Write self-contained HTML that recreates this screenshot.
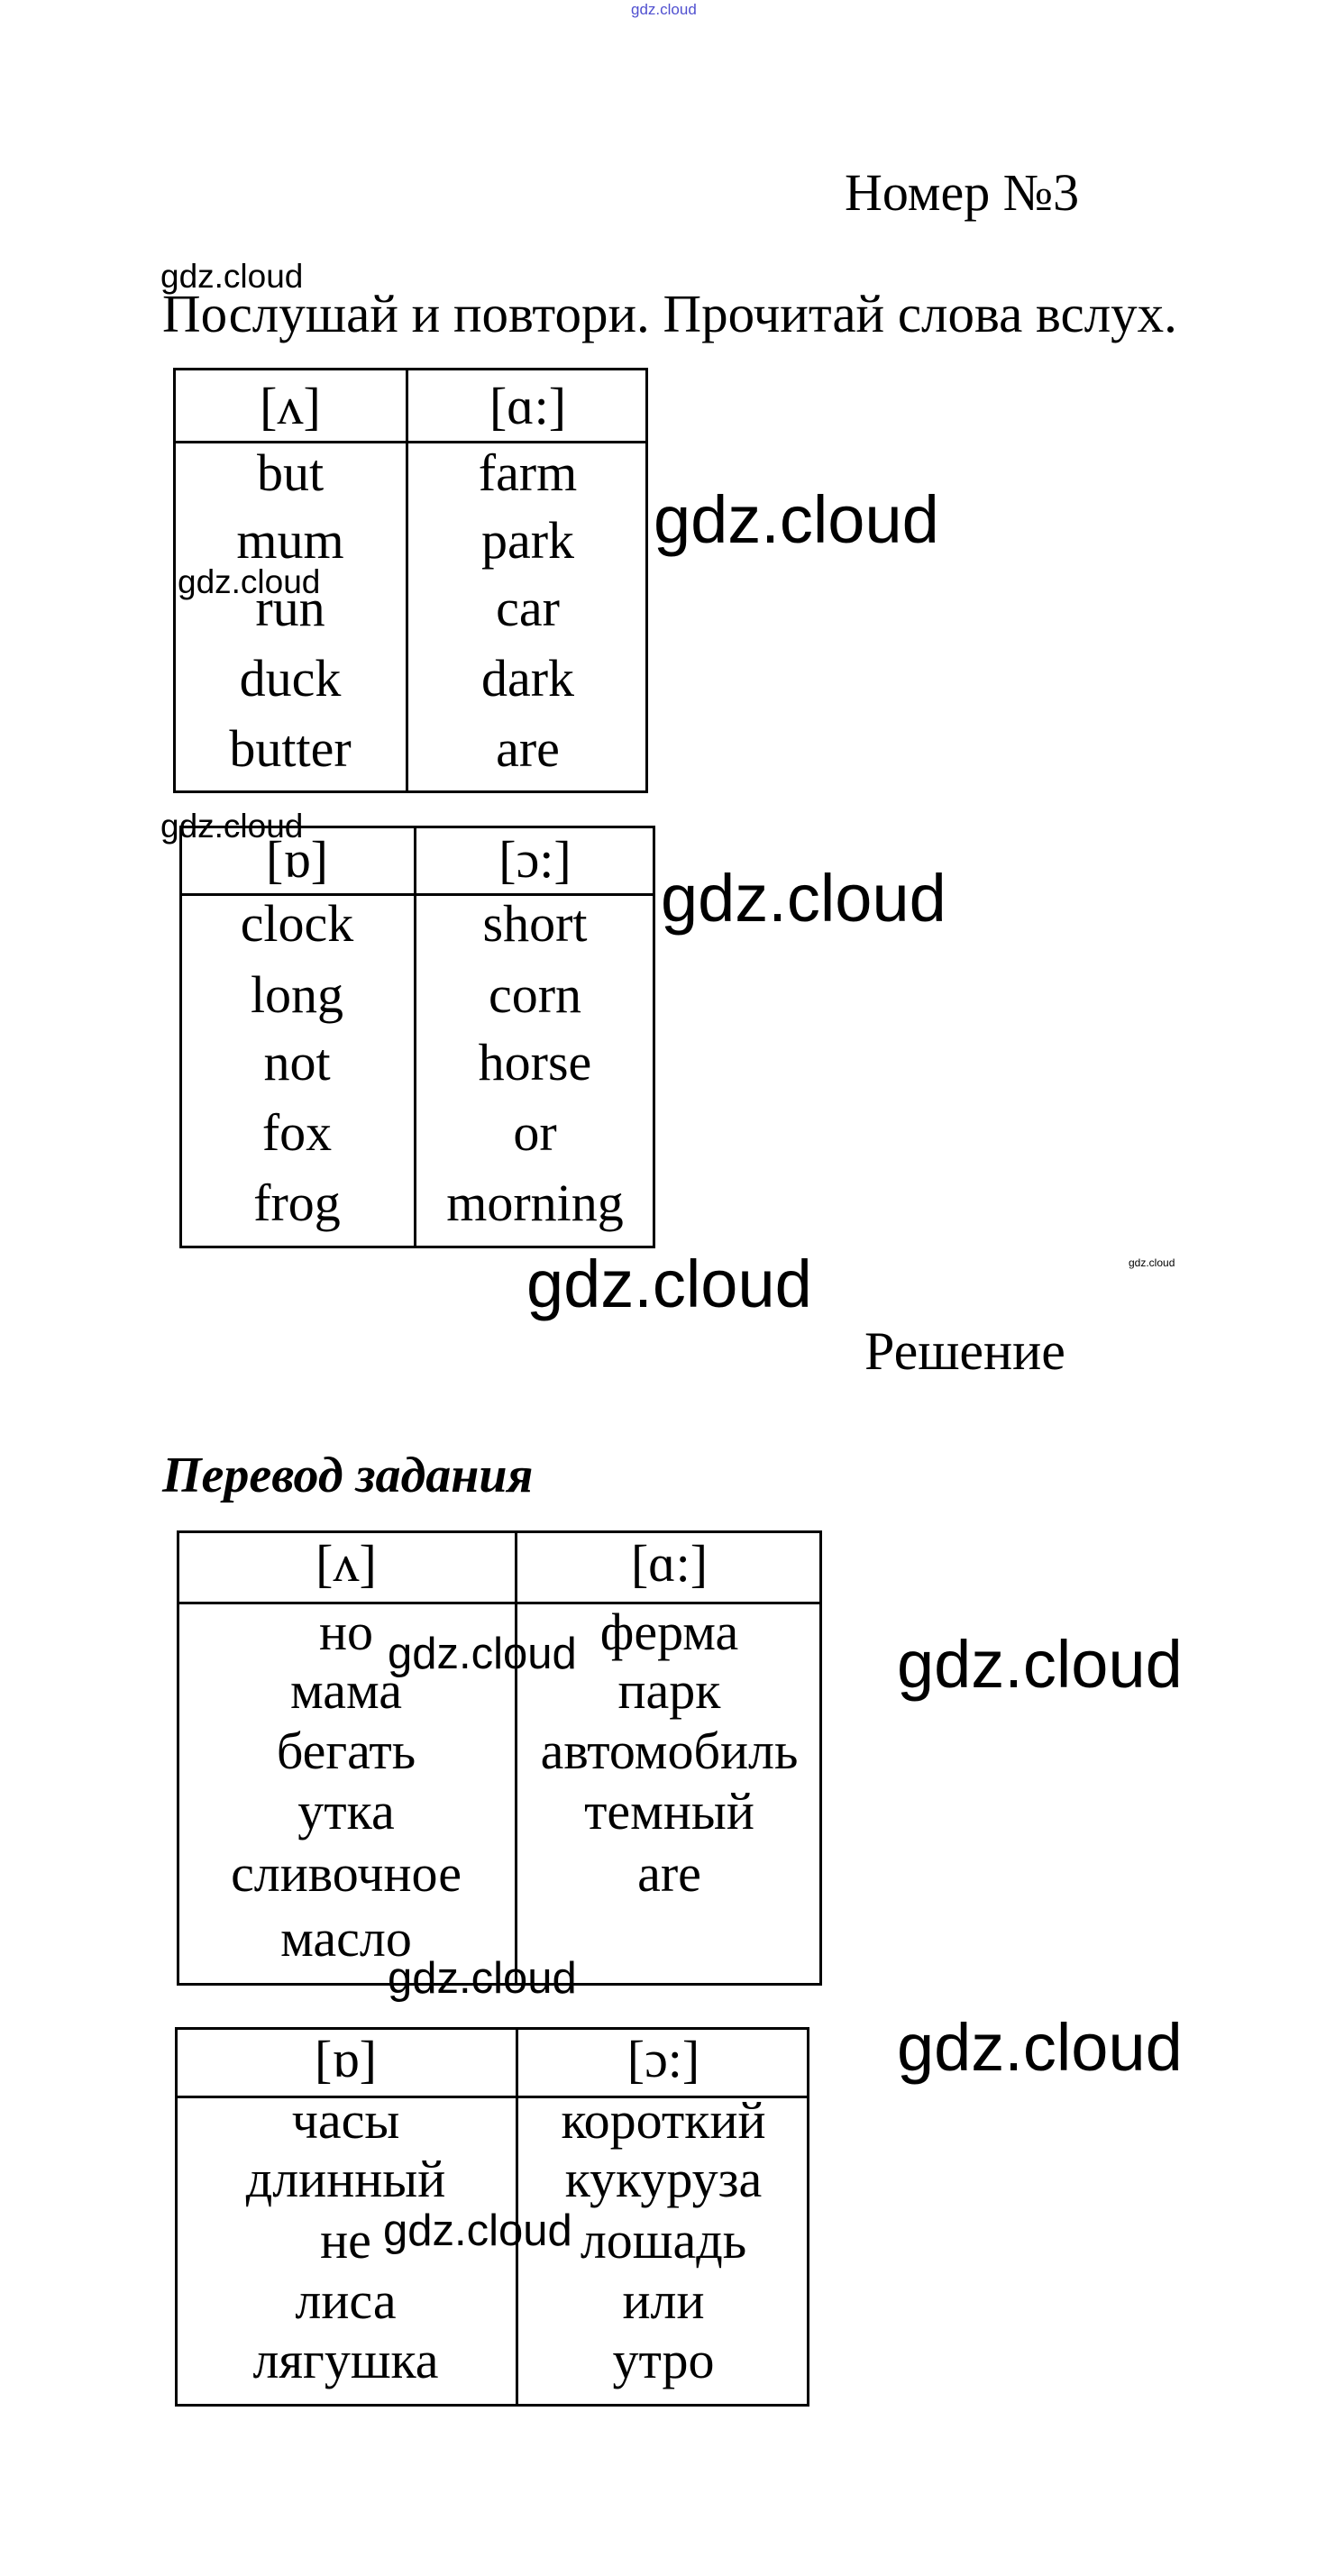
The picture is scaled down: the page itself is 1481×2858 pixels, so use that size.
<!DOCTYPE html>
<html><head><meta charset="utf-8"><style>
html,body{margin:0;padding:0;background:#fff;}
body{width:1481px;height:2858px;position:relative;overflow:hidden;}
.t{position:absolute;line-height:1;white-space:nowrap;color:#000;}
.s{font-family:"Liberation Serif",serif;}
.a{font-family:"Liberation Sans",sans-serif;}
.c{text-align:center;}
.b{position:absolute;border:3px solid #000;box-sizing:border-box;}
.h{position:absolute;background:#000;height:3px;}
.v{position:absolute;background:#000;width:3px;}
</style></head><body>

<div class="t a" style="left:700px;top:2px;font-size:17px;color:#5050d0;">gdz.cloud</div>

<div class="t s" style="left:937px;top:185px;font-size:58px;">Номер №3</div>
<div class="t a" style="left:178px;top:288px;font-size:37px;">gdz.cloud</div>
<div class="t s" style="left:180px;top:319px;font-size:59px;">Послушай и повтори. Прочитай слова вслух.</div>

<!-- table1 -->
<div class="b" style="left:192px;top:408px;width:527px;height:472px;"></div>
<div class="h" style="left:192px;top:489px;width:527px;"></div>
<div class="v" style="left:450px;top:408px;height:472px;"></div>
<div class="t s c" style="left:192px;width:260px;top:422px;font-size:58px;">[ʌ]</div>
<div class="t s c" style="left:452px;width:267px;top:422px;font-size:58px;">[ɑ:]</div>
<div class="t s c" style="left:192px;width:260px;top:496px;font-size:58px;">but</div>
<div class="t s c" style="left:192px;width:260px;top:571px;font-size:58px;">mum</div>
<div class="t s c" style="left:192px;width:260px;top:646px;font-size:58px;">run</div>
<div class="t s c" style="left:192px;width:260px;top:724px;font-size:58px;">duck</div>
<div class="t s c" style="left:192px;width:260px;top:802px;font-size:58px;">butter</div>
<div class="t s c" style="left:452px;width:267px;top:496px;font-size:58px;">farm</div>
<div class="t s c" style="left:452px;width:267px;top:571px;font-size:58px;">park</div>
<div class="t s c" style="left:452px;width:267px;top:646px;font-size:58px;">car</div>
<div class="t s c" style="left:452px;width:267px;top:724px;font-size:58px;">dark</div>
<div class="t s c" style="left:452px;width:267px;top:802px;font-size:58px;">are</div>
<div class="t a" style="left:725px;top:540px;font-size:74px;">gdz.cloud</div>
<div class="t a" style="left:197px;top:627px;font-size:37px;">gdz.cloud</div>

<!-- table2 -->
<div class="b" style="left:199px;top:916px;width:528px;height:469px;"></div>
<div class="h" style="left:199px;top:991px;width:528px;"></div>
<div class="v" style="left:459px;top:916px;height:469px;"></div>
<div class="t s c" style="left:199px;width:261px;top:925px;font-size:58px;">[ɒ]</div>
<div class="t s c" style="left:460px;width:267px;top:925px;font-size:58px;">[ɔ:]</div>
<div class="t s c" style="left:199px;width:261px;top:996px;font-size:58px;">clock</div>
<div class="t s c" style="left:199px;width:261px;top:1075px;font-size:58px;">long</div>
<div class="t s c" style="left:199px;width:261px;top:1150px;font-size:58px;">not</div>
<div class="t s c" style="left:199px;width:261px;top:1228px;font-size:58px;">fox</div>
<div class="t s c" style="left:199px;width:261px;top:1306px;font-size:58px;">frog</div>
<div class="t s c" style="left:460px;width:267px;top:996px;font-size:58px;">short</div>
<div class="t s c" style="left:460px;width:267px;top:1075px;font-size:58px;">corn</div>
<div class="t s c" style="left:460px;width:267px;top:1150px;font-size:58px;">horse</div>
<div class="t s c" style="left:460px;width:267px;top:1228px;font-size:58px;">or</div>
<div class="t s c" style="left:460px;width:267px;top:1306px;font-size:58px;">morning</div>
<div class="t a" style="left:178px;top:898px;font-size:37px;">gdz.cloud</div>
<div class="t a" style="left:733px;top:960px;font-size:74px;">gdz.cloud</div>
<div class="t a" style="left:584px;top:1388px;font-size:74px;">gdz.cloud</div>
<div class="t a" style="left:1252px;top:1395px;font-size:12px;">gdz.cloud</div>

<div class="t s" style="left:959px;top:1469px;font-size:60px;">Решение</div>
<div class="t s" style="left:180px;top:1609px;font-size:56px;font-weight:bold;font-style:italic;">Перевод задания</div>

<!-- table3 -->
<div class="b" style="left:196px;top:1698px;width:716px;height:505px;"></div>
<div class="h" style="left:196px;top:1777px;width:716px;"></div>
<div class="v" style="left:571px;top:1698px;height:505px;"></div>
<div class="t s c" style="left:196px;width:376px;top:1706px;font-size:58px;">[ʌ]</div>
<div class="t s c" style="left:573px;width:339px;top:1706px;font-size:58px;">[ɑ:]</div>
<div class="t s c" style="left:196px;width:376px;top:1782px;font-size:58px;">но</div>
<div class="t s c" style="left:196px;width:376px;top:1847px;font-size:58px;">мама</div>
<div class="t s c" style="left:196px;width:376px;top:1914px;font-size:58px;">бегать</div>
<div class="t s c" style="left:196px;width:376px;top:1981px;font-size:58px;">утка</div>
<div class="t s c" style="left:196px;width:376px;top:2050px;font-size:58px;">сливочное</div>
<div class="t s c" style="left:196px;width:376px;top:2122px;font-size:58px;">масло</div>
<div class="t s c" style="left:573px;width:339px;top:1782px;font-size:58px;">ферма</div>
<div class="t s c" style="left:573px;width:339px;top:1847px;font-size:58px;">парк</div>
<div class="t s c" style="left:573px;width:339px;top:1914px;font-size:58px;">автомобиль</div>
<div class="t s c" style="left:573px;width:339px;top:1981px;font-size:58px;">темный</div>
<div class="t s c" style="left:573px;width:339px;top:2050px;font-size:58px;">are</div>
<div class="t a" style="left:430px;top:1811px;font-size:49px;">gdz.cloud</div>
<div class="t a" style="left:430px;top:2171px;font-size:49px;">gdz.cloud</div>
<div class="t a" style="left:995px;top:1810px;font-size:74px;">gdz.cloud</div>

<!-- table4 -->
<div class="b" style="left:194px;top:2249px;width:704px;height:421px;"></div>
<div class="h" style="left:194px;top:2325px;width:704px;"></div>
<div class="v" style="left:572px;top:2249px;height:421px;"></div>
<div class="t s c" style="left:194px;width:379px;top:2256px;font-size:58px;">[ɒ]</div>
<div class="t s c" style="left:574px;width:324px;top:2256px;font-size:58px;">[ɔ:]</div>
<div class="t s c" style="left:194px;width:379px;top:2324px;font-size:58px;">часы</div>
<div class="t s c" style="left:194px;width:379px;top:2389px;font-size:58px;">длинный</div>
<div class="t s c" style="left:194px;width:379px;top:2457px;font-size:58px;">не</div>
<div class="t s c" style="left:194px;width:379px;top:2524px;font-size:58px;">лиса</div>
<div class="t s c" style="left:194px;width:379px;top:2590px;font-size:58px;">лягушка</div>
<div class="t s c" style="left:574px;width:324px;top:2324px;font-size:58px;">короткий</div>
<div class="t s c" style="left:574px;width:324px;top:2389px;font-size:58px;">кукуруза</div>
<div class="t s c" style="left:574px;width:324px;top:2457px;font-size:58px;">лошадь</div>
<div class="t s c" style="left:574px;width:324px;top:2524px;font-size:58px;">или</div>
<div class="t s c" style="left:574px;width:324px;top:2590px;font-size:58px;">утро</div>
<div class="t a" style="left:425px;top:2451px;font-size:49px;">gdz.cloud</div>
<div class="t a" style="left:995px;top:2235px;font-size:74px;">gdz.cloud</div>

</body></html>
